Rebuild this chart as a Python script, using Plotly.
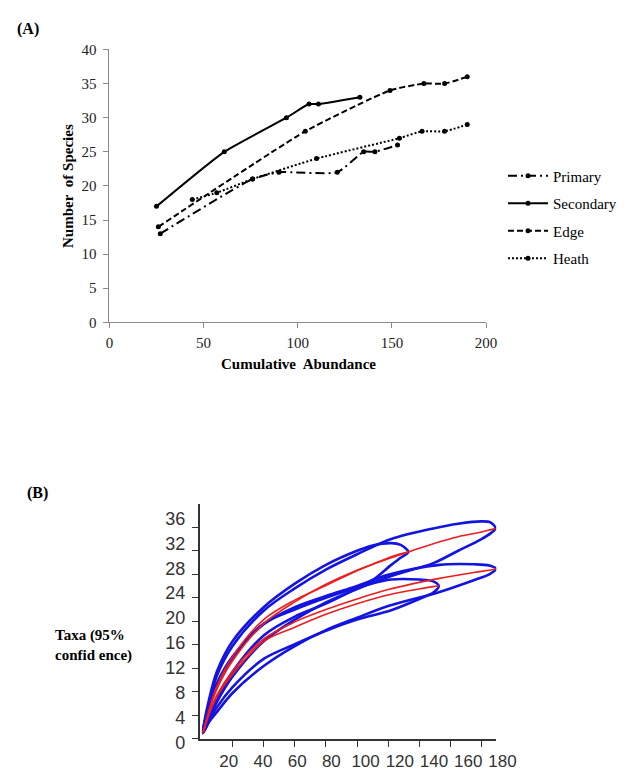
import plotly.graph_objects as go

# ---------- Panel A data ----------
primary_x = [27, 76, 90, 121, 135, 141, 153]
primary_y = [13, 21, 22, 22, 25, 25, 26]
secondary_x = [25, 61, 94, 106, 111, 133]
secondary_y = [17, 25, 30, 32, 32, 33]
edge_x = [26, 104, 149, 167, 178, 190]
edge_y = [14, 28, 34, 35, 35, 36]
heath_x = [44, 57, 76, 110, 154, 166, 178, 190]
heath_y = [18, 19, 21, 24, 27, 28, 28, 29]

a_xticks = [0, 50, 100, 150, 200]
a_yticks = [0, 5, 10, 15, 20, 25, 30, 35, 40]

# ---------- Panel B data (rarefaction means and 95% bounds) ----------
b_edge_x = [1, 5, 10, 20, 40, 60, 80, 100, 122, 149, 165, 180, 186, 189]
b_edge_mean = [1, 4.8, 8.5, 13.3, 19.6, 23.3, 26.3, 28.7, 30.8, 33.2, 34.4, 35.2, 35.6, 35.8]
b_edge_up = [1, 6.3, 10.8, 15.8, 21.8, 25.6, 28.8, 31.4, 34.0, 35.8, 36.6, 37.0, 36.8, 35.8]
b_edge_lo = [1, 3.5, 6.3, 10.6, 16.6, 20.3, 23.2, 25.5, 27.7, 29.9, 32.0, 34.0, 35.0, 35.8]

b_sec_x = [1, 5, 10, 20, 40, 60, 80, 100, 110, 122, 128, 133]
b_sec_mean = [1, 5, 9, 14, 20.3, 23.6, 26.1, 28.6, 29.7, 31.0, 31.5, 31.8]
b_sec_up = [1, 6.8, 11.5, 16.6, 22.4, 26.4, 29.6, 32.0, 32.9, 33.3, 33.0, 31.8]
b_sec_lo = [1, 3.6, 6.8, 11.4, 17.6, 20.8, 23.0, 25.6, 27.0, 29.6, 30.8, 31.8]

b_heath_x = [1, 5, 10, 20, 40, 60, 80, 100, 120, 153, 175, 185, 189.5]
b_heath_mean = [1, 4.3, 7.5, 11.5, 17.0, 19.9, 22.0, 23.8, 25.4, 27.3, 28.3, 28.7, 28.9]
b_heath_up = [1, 5.8, 9.5, 14.0, 19.5, 22.4, 24.3, 26.0, 27.9, 29.6, 29.7, 29.5, 28.9]
b_heath_lo = [1, 2.9, 4.6, 7.8, 12.4, 15.8, 18.5, 20.6, 22.6, 25.0, 27.0, 28.0, 28.9]

b_prim_x = [1, 5, 10, 20, 40, 60, 80, 100, 122, 140, 149, 152.5]
b_prim_mean = [1, 4.3, 7.2, 11.0, 16.6, 19.0, 21.2, 23.0, 24.6, 25.5, 25.9, 26.0]
b_prim_up = [1, 5.8, 9.3, 13.8, 19.6, 22.0, 24.0, 25.7, 27.1, 27.1, 26.8, 26.0]
b_prim_lo = [1, 3.1, 5.4, 8.8, 13.6, 16.1, 18.4, 20.3, 21.9, 23.8, 24.9, 26.0]

b_xticks = [20, 40, 60, 80, 100, 120, 140, 160, 180]
b_yticks = [0, 4, 8, 12, 16, 20, 24, 28, 32, 36]

# page is offset by the default 8px body margin
OFF = 8
W, H = 630 - 2 * OFF, 781 - 2 * OFF
SERIF = "Liberation Serif"
SANS = "Liberation Sans"


def px_x(p):
    return (p - OFF) / W


def px_y(p):
    return 1 - (p - OFF) / H


fig = go.Figure()

# ---------- Panel A traces ----------
series_a = [
    ("Primary", primary_x, primary_y, "9px,4px,2px,4px"),
    ("Secondary", secondary_x, secondary_y, "solid"),
    ("Edge", edge_x, edge_y, "6px,3px"),
    ("Heath", heath_x, heath_y, "2px,2px"),
]
for name, xs, ys, dash in series_a:
    fig.add_trace(go.Scatter(
        x=xs, y=ys, name=name, mode="lines+markers",
        line=dict(color="black", width=2, dash=dash, shape="spline", smoothing=0.5),
        marker=dict(color="black", size=5, symbol="circle"),
        xaxis="x", yaxis="y", legendgroup=name,
    ))

# ---------- Panel B traces ----------
BLUE = "rgb(20,20,225)"
RED = "rgb(235,30,30)"
groups_b = [
    (b_edge_x, b_edge_mean, b_edge_up, b_edge_lo),
    (b_sec_x, b_sec_mean, b_sec_up, b_sec_lo),
    (b_heath_x, b_heath_mean, b_heath_up, b_heath_lo),
    (b_prim_x, b_prim_mean, b_prim_up, b_prim_lo),
]
for xs, mean, up, lo in groups_b:
    loop_x = list(xs) + list(xs[::-1])[1:]
    loop_y = list(up) + list(lo[::-1])[1:]
    fig.add_trace(go.Scatter(
        x=loop_x, y=loop_y, mode="lines",
        line=dict(color=BLUE, width=2.6, shape="spline", smoothing=0.9),
        xaxis="x2", yaxis="y2", showlegend=False, hoverinfo="skip",
    ))
for xs, mean, up, lo in groups_b:
    fig.add_trace(go.Scatter(
        x=xs, y=mean, mode="lines",
        line=dict(color=RED, width=1.6, shape="spline", smoothing=0.9),
        xaxis="x2", yaxis="y2", showlegend=False, hoverinfo="skip",
    ))

# label-only axes for panel B (labels in the original are spaced a little wider than the ticks)
fig.add_trace(go.Scatter(x=[None], y=[None], xaxis="x3", yaxis="y3",
                         showlegend=False, hoverinfo="skip"))

fig.update_layout(
    width=W, height=H,
    margin=dict(l=0, r=0, t=0, b=0),
    paper_bgcolor="white", plot_bgcolor="rgba(0,0,0,0)",
    font=dict(family=SERIF, size=15, color="black"),
    xaxis=dict(
        domain=[px_x(108.7), px_x(498)], range=[0, 200], anchor="y",
        tickvals=a_xticks, showline=True, linecolor="#8a8a8a", linewidth=1,
        ticks="outside", ticklen=5, tickcolor="#8a8a8a", showgrid=False, zeroline=False,
        ticklabelstandoff=2,
        tickfont=dict(family=SERIF, size=15, color="#222"),
    ),
    yaxis=dict(
        domain=[px_y(321.7), px_y(42.3)], range=[0, 40], anchor="x",
        tickvals=a_yticks, showline=True, linecolor="#8a8a8a", linewidth=1,
        ticks="outside", ticklen=5, tickcolor="#8a8a8a", showgrid=False, zeroline=False,
        ticklabelstandoff=4,
        tickfont=dict(family=SERIF, size=15, color="#222"),
    ),
    xaxis2=dict(
        domain=[px_x(202.2), px_x(508.6)], range=[-1, 189.5], anchor="y2",
        tickvals=b_xticks, showticklabels=False, showline=True, linecolor="#333",
        linewidth=1.5, ticks="outside", ticklen=6, tickcolor="#333",
        showgrid=False, zeroline=False,
    ),
    yaxis2=dict(
        domain=[px_y(748.3), px_y(507.5)], range=[0, 40], anchor="x2",
        tickvals=b_yticks, showticklabels=False, showline=True, linecolor="#333",
        linewidth=1.5, ticks="outside", ticklen=6, tickcolor="#333",
        showgrid=False, zeroline=False,
    ),
    xaxis3=dict(
        domain=[px_x(196.6), px_x(196.6 + 1.769 * 190)], range=[0, 190],
        anchor="free", position=px_y(759), side="bottom",
        tickvals=b_xticks, tickangle=0, showline=False, ticks="", showgrid=False,
        zeroline=False, ticklabelstandoff=0,
        tickfont=dict(family=SANS, size=17, color="#333"),
    ),
    yaxis3=dict(
        domain=[px_y(751.7), px_y(751.7 - 6.361 * 40)], range=[0, 40],
        anchor="free", position=px_x(187), side="left",
        tickvals=b_yticks, showline=False, ticks="", showgrid=False,
        zeroline=False, ticklabelstandoff=0,
        tickfont=dict(family=SANS, size=18, color="#333"),
    ),
    legend=dict(
        x=px_x(516), y=px_y(155), xanchor="left", yanchor="top",
        font=dict(family=SERIF, size=15, color="black"),
        tracegroupgap=5, itemwidth=40, bgcolor="rgba(0,0,0,0)",
    ),
    showlegend=True,
)

annotations = [
    dict(text="<b>(A)</b>", x=px_x(11), y=px_y(21), xanchor="left", yanchor="middle",
         font=dict(family=SERIF, size=16)),
    dict(text="<b>Number&nbsp; of Species</b>", x=px_x(66), y=px_y(182), textangle=-90,
         xanchor="center", yanchor="middle", font=dict(family=SERIF, size=15)),
    dict(text="<b>Cumulative&nbsp; Abundance</b>", x=px_x(304), y=px_y(364),
         xanchor="center", yanchor="middle", font=dict(family=SERIF, size=15)),
    dict(text="<b>(B)</b>", x=px_x(21), y=px_y(497), xanchor="left", yanchor="middle",
         font=dict(family=SERIF, size=16)),
    dict(text="<b>Taxa (95%<br>confid ence)</b>", x=px_x(50), y=px_y(653), xanchor="left",
         yanchor="middle", align="left", font=dict(family=SERIF, size=15)),
]
for a in annotations:
    a.update(xref="paper", yref="paper", showarrow=False)
fig.update_layout(annotations=annotations)

fig.write_html("out.html")
